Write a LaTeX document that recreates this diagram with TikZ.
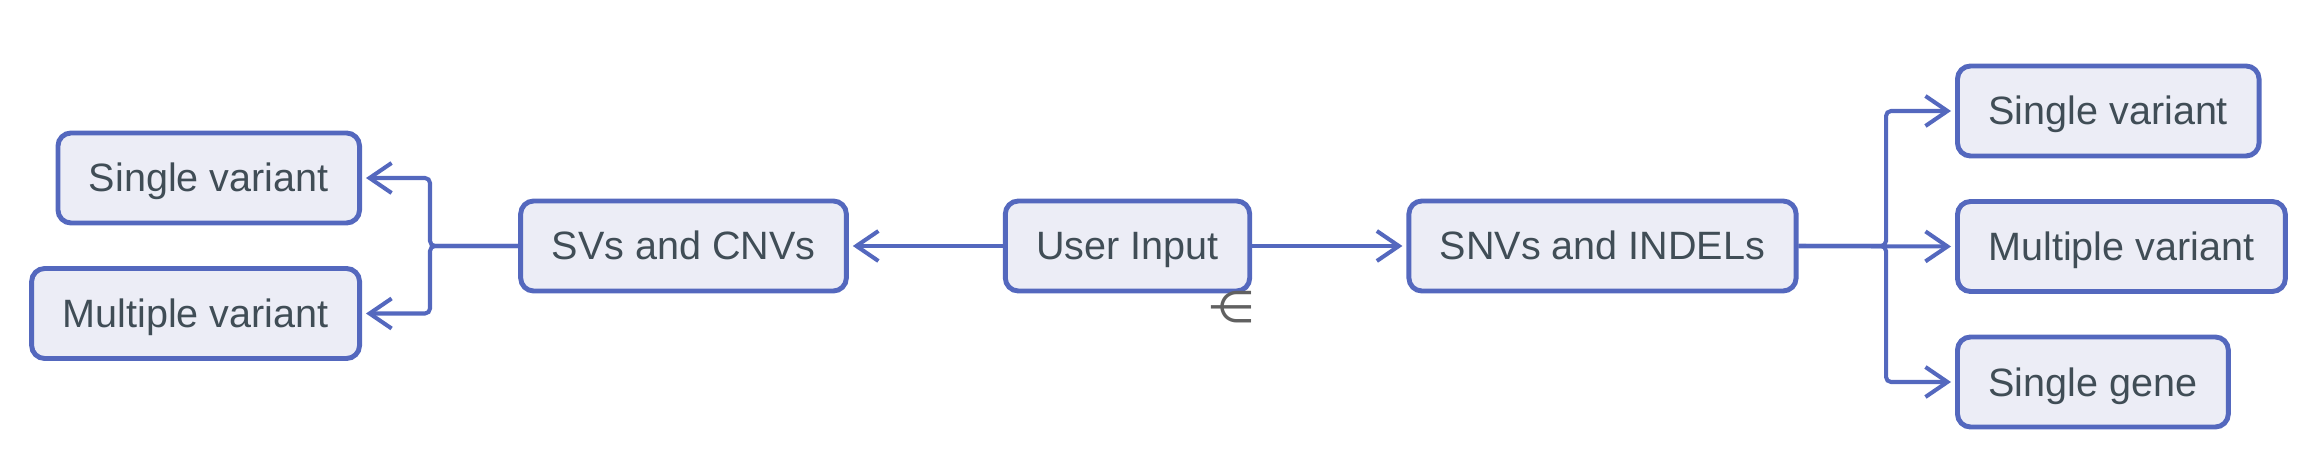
\documentclass[tikz,border=0pt]{standalone}
\usepackage{fontspec}
\setmainfont{Liberation Sans}
\newfontfamily\symfont{DejaVu Sans}
\usepackage{xcolor}
\usetikzlibrary{arrows.meta,positioning,calc}

\definecolor{edgeblue}{RGB}{84,104,190}
\definecolor{boxfill}{RGB}{236,237,246}
\definecolor{labelgray}{RGB}{64,77,86}

\tikzset{
  stepbox/.style={draw=edgeblue, fill=boxfill, line width=2.8pt, rounded corners=0.26cm,
    minimum height=1.8cm, inner xsep=0.62cm, text height=0.72cm, text depth=0.16cm,
    text=labelgray, font=\fontsize{22.5}{26}\selectfont},
  link/.style={draw=edgeblue, line width=2.3pt, rounded corners=0.1cm, shorten >=0.08cm,
    -{Straight Barb[length=0.44cm, width=0.6cm, line width=2.3pt]}}
}

\begin{document}
\begin{tikzpicture}
            \useasboundingbox (0,0) rectangle (46.4,9.44);

            % middle row
            \node[stepbox] (input) at (22.55,4.52) {User Input};
            \node[stepbox] (svs) at (13.67,4.52) {SVs and CNVs};
            \node[stepbox] (snvs) at (32.05,4.52) {SNVs and INDELs};

            % left branch
            \node[stepbox, anchor=east] (lsingle) at (7.24,5.88) {Single variant};
            \node[stepbox, anchor=east] (lmulti) at (7.24,3.17) {Multiple variant};

            % right branch
            \node[stepbox, anchor=west] (rsingle) at (39.1,7.22) {Single variant};
            \node[stepbox, anchor=west] (rmulti) at (39.1,4.51) {Multiple variant};
            \node[stepbox, anchor=west] (rgene) at (39.1,1.8) {Single gene};

            % junction points
            \coordinate (jleft) at (8.6,4.52);
            \coordinate (jright) at (37.72,4.52);

            % arrows
            \draw[link] (input) -- (svs);
            \draw[link] (input) -- (snvs);
            \draw[link] (svs.west) -- (jleft) |- (lsingle.east);
            \draw[link] (svs.west) -- (jleft) |- (lmulti.east);
            \draw[link] (snvs.east) -- (jright) |- (rsingle.west);
            \draw[link] (snvs.east) -- (rmulti.west);
            \draw[link] (snvs.east) -- (jright) |- (rgene.west);

            % stray mark under the input box
            \node[text=black!62, font=\symfont\fontsize{25}{25}\selectfont, inner sep=0pt] (mark) at (24.62,3.3) {⋲};
        \end{tikzpicture}
\end{document}
